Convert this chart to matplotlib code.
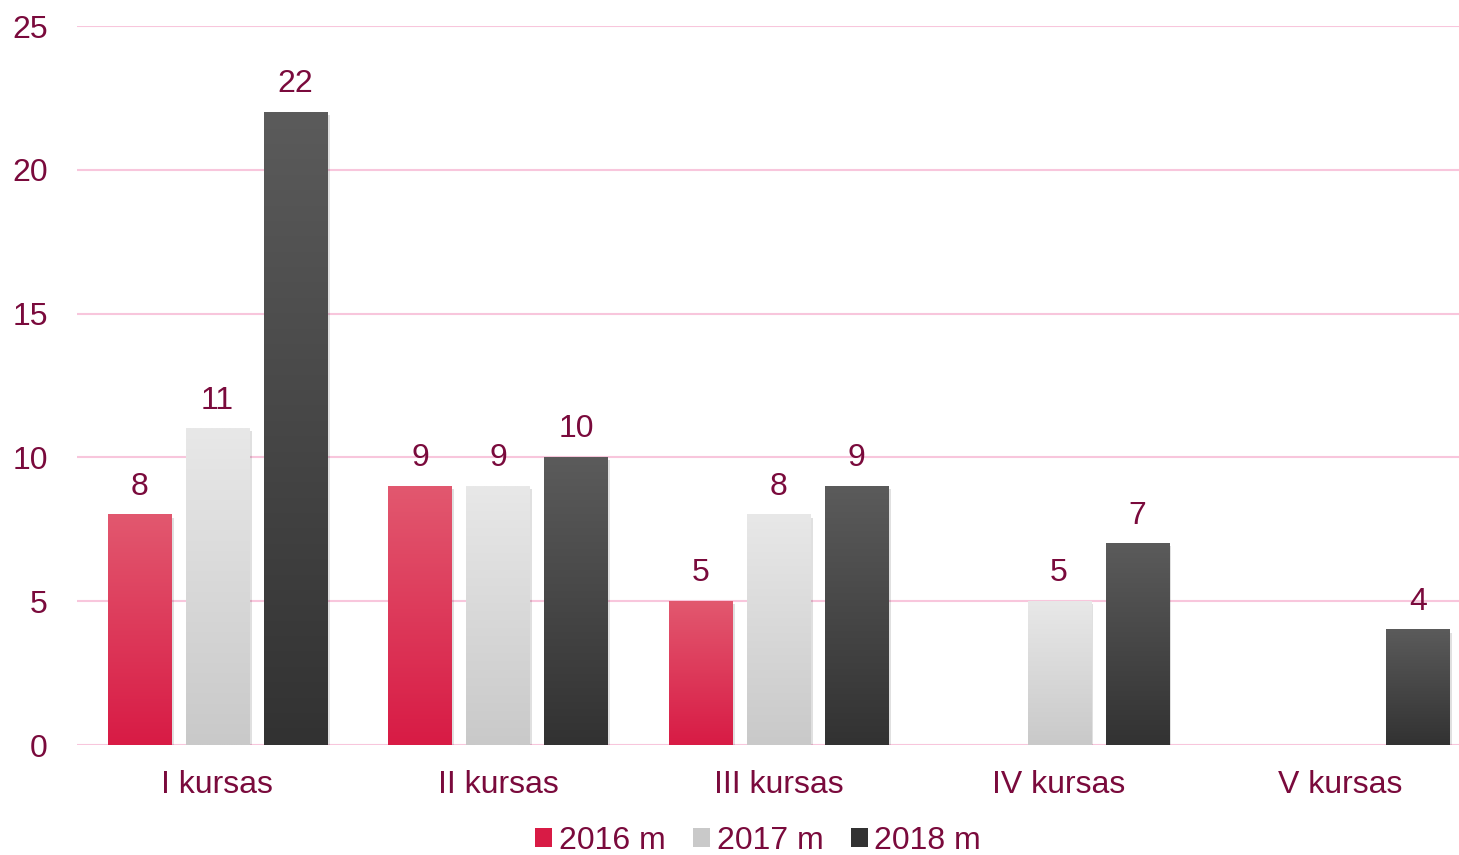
import numpy as np
import matplotlib
matplotlib.use("Agg")
import matplotlib.pyplot as plt
from matplotlib.patches import Patch
from matplotlib.colors import LinearSegmentedColormap
import matplotlib.patheffects as pe

categories = ["I kursas", "II kursas", "III kursas", "IV kursas", "V kursas"]
series_names = ["2016 m", "2017 m", "2018 m"]
v2016 = [8, 9, 5, None, None]
v2017 = [11, 9, 8, 5, None]
v2018 = [22, 10, 9, 7, 4]
yticks = [0, 5, 10, 15, 20, 25]

grad = [("#e2586f", "#d81b45"), ("#e8e8e8", "#c9c9c9"), ("#5b5b5b", "#323232")]
text_color = "#7a0a3c"
grid_color = "#f8c6dc"

plt.rcParams["font.family"] = ["Liberation Sans", "DejaVu Sans"]

fig = plt.figure(figsize=(14.59, 8.55), dpi=100)
ax = fig.add_axes([77 / 1459, (855 - 745) / 855, (1480 - 77) / 1459, (745 - 26) / 855])

x = np.arange(len(categories))
width = 0.225
offset = 0.278
allvals = [v2016, v2017, v2018]
for i, vals in enumerate(allvals):
    arr = np.array([np.nan if v is None else v for v in vals], dtype=float)
    pos = x + (i - 1) * offset
    bars = ax.bar(pos, np.nan_to_num(arr), width, color=grad[i][1], zorder=3,
                  path_effects=[pe.SimplePatchShadow(offset=(2, -2), shadow_rgbFace="#000000", alpha=0.12),
                                pe.Normal()])
    cmap = LinearSegmentedColormap.from_list("g%d" % i, [grad[i][1], grad[i][0]])
    for b, v in zip(bars, arr):
        if np.isnan(v):
            b.set_visible(False)
            continue
        x0, w, h = b.get_x(), b.get_width(), b.get_height()
        g = np.linspace(0, 1, 256).reshape(-1, 1)
        ax.imshow(g, extent=(x0, x0 + w, 0, h), origin="lower", cmap=cmap,
                  aspect="auto", zorder=4, interpolation="bilinear")
        ax.text(x0 + w / 2, h + 0.45, f"{int(v)}", ha="center", va="bottom",
                fontsize=23, color=text_color, zorder=5)

ax.set_xlim(-0.5, len(categories) - 0.5)
ax.set_ylim(0, 25)
ax.set_yticks(yticks)
ax.set_yticklabels([str(t) for t in yticks])
ax.set_xticks(x)
ax.set_xticklabels(categories)
ax.tick_params(axis="y", length=0, pad=21, labelsize=23, labelcolor=text_color)
ax.tick_params(axis="x", length=0, pad=18, labelsize=23, labelcolor=text_color)
for s in ax.spines.values():
    s.set_visible(False)
ax.yaxis.grid(True, color=grid_color, linewidth=1.5, zorder=0)
ax.set_axisbelow(True)

handles = [Patch(facecolor=grad[i][1], edgecolor="none") for i in range(3)]
fig.legend(handles, series_names, loc="center", bbox_to_anchor=(758 / 1459, (855 - 841) / 855),
           ncol=3, frameon=False, fontsize=23, labelcolor=text_color,
           handlelength=0.55, handleheight=0.55, handletextpad=0.2, columnspacing=0.85,
           borderaxespad=0, borderpad=0)

fig.savefig("out.png", dpi=100)
